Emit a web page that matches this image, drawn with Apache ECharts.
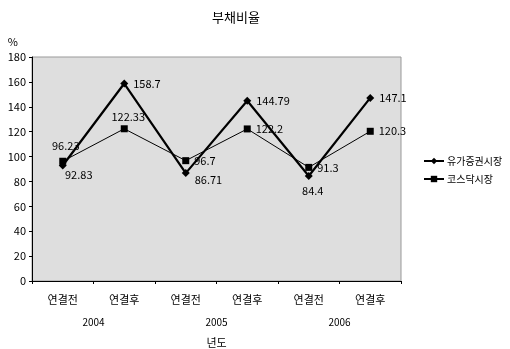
<!DOCTYPE html>
<html><head><meta charset="utf-8">
<script src="https://cdn.jsdelivr.net/npm/echarts@6/dist/echarts.min.js"></script>
<style>html,body{margin:0;padding:0;background:#fff}#c{width:510px;height:349px}</style>
</head><body><div id="c"></div>
<script>
var categories = ['연결전','연결후','연결전','연결후','연결전','연결후'];
var years = ['2004','2005','2006'];
var seriesNames = ['유가증권시장','코스닥시장'];
var kospi = [92.83, 158.7, 86.71, 144.79, 84.4, 147.1];
var kosdaq = [96.23, 122.33, 96.7, 122.2, 91.3, 120.3];
var yTicks = {min:0, max:180, interval:20};

var font = '"Noto Sans CJK KR", "Noto Sans", sans-serif';
var kospiLabel = [
  {position:'bottom', offset:[16,-5]},
  {position:'right'},
  {position:'right', offset:[0,7]},
  {position:'right'},
  {position:'bottom', offset:[4,0]},
  {position:'right'}
];
var kosdaqLabel = [
  {position:'top', offset:[3,-1]},
  {position:'top', offset:[4,2]},
  {position:'right'},
  {position:'right'},
  {position:'right'},
  {position:'right'}
];
function build(vals, pos){
  return vals.map(function(v,i){ return {value:v, label:pos[i]}; });
}
var chart = echarts.init(document.getElementById('c'));
chart.setOption({
  animation:false,
  backgroundColor:'#fff',
  textStyle:{fontFamily:font, color:'#000'},
  title:{text:'부채비율', left:207, top:6, textStyle:{fontSize:13, fontWeight:'normal', color:'#000', fontFamily:font}},
  legend:{
    orient:'vertical', left:418, top:151, itemGap:8, itemWidth:20, itemHeight:8,
    textStyle:{fontSize:10, color:'#000', fontFamily:font, padding:[0,0,0,-2]},
    data:seriesNames
  },
  grid:{left:32, right:109, top:57, bottom:68, containLabel:false, outerBoundsMode:'none',
        show:true, backgroundColor:'#dedede', borderColor:'#999', borderWidth:1},
  xAxis:[{
    type:'category', data:categories, boundaryGap:true, position:'bottom',
    axisLine:{lineStyle:{color:'#000', width:1}},
    axisTick:{show:true, length:3, lineStyle:{color:'#000'}},
    axisLabel:{fontSize:11, color:'#000', margin:13, fontFamily:font},
    name:'년도', nameLocation:'middle', nameGap:56,
    nameTextStyle:{fontSize:11, color:'#000', fontFamily:font}
  },{
    type:'category', data:years, position:'bottom', offset:24, gridIndex:0,
    axisLine:{show:false}, axisTick:{show:false},
    axisLabel:{fontSize:10, color:'#000', margin:12, fontFamily:font}
  }],
  yAxis:{
    type:'value', min:yTicks.min, max:yTicks.max, interval:yTicks.interval,
    axisLine:{show:true, lineStyle:{color:'#000'}},
    axisTick:{show:true, length:3, lineStyle:{color:'#000'}},
    splitLine:{show:false},
    axisLabel:{fontSize:11, color:'#000', margin:6, fontFamily:font},
    name:'%', nameGap:10, nameTextStyle:{fontSize:11, color:'#000', align:'right', padding:[0,14,0,0]}
  },
  series:[{
    name:seriesNames[0], type:'line', xAxisIndex:0,
    data:build(kospi, kospiLabel),
    symbol:'diamond', symbolSize:8,
    lineStyle:{color:'#000', width:2.2},
    itemStyle:{color:'#000'},
    label:{show:true, fontSize:11, color:'#000', fontFamily:font}
  },{
    name:seriesNames[1], type:'line', xAxisIndex:0,
    data:build(kosdaq, kosdaqLabel),
    symbol:'rect', symbolSize:7,
    lineStyle:{color:'#000', width:1},
    itemStyle:{color:'#000'},
    label:{show:true, fontSize:11, color:'#000', fontFamily:font}
  }]
});
</script></body></html>
